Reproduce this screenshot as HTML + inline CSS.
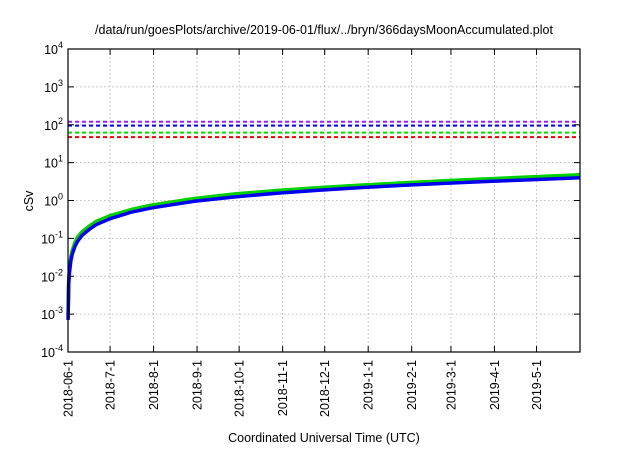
<!DOCTYPE html>
<html><head><meta charset="utf-8"><style>
body{margin:0;background:#fff;width:640px;height:448px;overflow:hidden}
svg{font-family:"Liberation Sans",sans-serif}
</style></head><body>
<svg id="chart" width="640" height="448" viewBox="0 0 640 448" xmlns="http://www.w3.org/2000/svg">
<text x="324" y="34" font-size="12.5" text-anchor="middle">/data/run/goesPlots/archive/2019-06-01/flux/../bryn/366daysMoonAccumulated.plot</text>
<text transform="translate(33,201) rotate(-90)" font-size="12.5" text-anchor="middle">cSv</text>
<text x="324" y="442" font-size="12.5" text-anchor="middle">Coordinated Universal Time (UTC)</text>
<g id="grid"></g><g id="series"></g><g id="axes"></g>
</svg>
<script>
const yTickExps=[-4,-3,-2,-1,0,1,2,3,4];
const xTickLabels=["2018-06-1","2018-7-1","2018-8-1","2018-9-1","2018-10-1","2018-11-1","2018-12-1","2019-1-1","2019-2-1","2019-3-1","2019-4-1","2019-5-1"];
const xTickDays=[0,30,61,92,122,153,183,214,245,273,304,334];
const sampleDays=[0.05,0.5,1,2,3,5,7,10,15,20,30,45,60,90,120,150,180,210,240,270,300,330,365];
const redValues=[0.0008,0.0075,0.014,0.03,0.045,0.075,0.1,0.14,0.2,0.26,0.38,0.55,0.72,1.08,1.42,1.76,2.1,2.45,2.8,3.15,3.55,3.95,4.5];
const greenValues=[0.0009,0.008,0.015,0.032,0.048,0.08,0.11,0.15,0.21,0.28,0.4,0.58,0.76,1.13,1.5,1.85,2.2,2.57,2.95,3.35,3.75,4.2,4.8];
const blueValues=[0.0007,0.006,0.012,0.025,0.038,0.062,0.085,0.12,0.17,0.23,0.33,0.49,0.64,0.95,1.26,1.57,1.88,2.2,2.52,2.85,3.2,3.55,4.0];
const thresholdValues=[47,62,95,120];
const thresholdColors=["#f00000","#00e000","#0000f0","#a020f0"];
const L=68,R=580,T=49,B=352,D0=0,D1=365;
const NS="http://www.w3.org/2000/svg";
function xs(d){return L+(d-D0)/(D1-D0)*(R-L);}
function ys(v){return B-(Math.log10(v)+4)/8*(B-T);}
function mk(tag,attrs,parent){const e=document.createElementNS(NS,tag);for(const k in attrs)e.setAttribute(k,attrs[k]);parent.appendChild(e);return e;}
const grid=document.getElementById('grid'),axes=document.getElementById('axes'),ser=document.getElementById('series');
yTickExps.forEach(e=>{const y=ys(Math.pow(10,e));
 if(e>-4&&e<4){const g=mk('line',{x1:L,x2:R,y1:y,y2:y,stroke:'#aaa','stroke-width':0.8,'stroke-dasharray':'1.5,2.5'},grid);
 
 }
 const t1=mk('line',{x1:L,x2:L+6,y1:y,y2:y,stroke:'#000'},axes);
 
 
 const t2=mk('line',{x1:R-6,x2:R,y1:y,y2:y,stroke:'#000'},axes);
 
 
 const tx=mk('text',{x:L-5,y:y+5,'font-size':12.5,'text-anchor':'end'},axes);
 
 
 tx.appendChild(document.createTextNode('10'));
 const s=mk('tspan',{dy:-6,'font-size':9},tx);s.textContent=String(e);
});
xTickDays.forEach((d,i)=>{const x=xs(d);
 if(i>0){const g=mk('line',{x1:x,x2:x,y1:T,y2:B,stroke:'#aaa','stroke-width':0.8,'stroke-dasharray':'1.5,2.5'},grid);
 
 }
 const t1=mk('line',{x1:x,x2:x,y1:B,y2:B-6,stroke:'#000'},axes);
 
 
 const t2=mk('line',{x1:x,x2:x,y1:T,y2:T+6,stroke:'#000'},axes);
 
 
 const tx=mk('text',{transform:`translate(${x+4.5},360) rotate(-90)`,'font-size':12.5,'text-anchor':'end'},axes);
 
 
 tx.textContent=xTickLabels[i];
});
thresholdValues.forEach((v,i)=>{const y=ys(v);
 const l=mk('line',{x1:L,x2:R,y1:y,y2:y,stroke:thresholdColors[i],'stroke-width':2,'stroke-dasharray':'4,3'},ser);
 
 
});
[[redValues,'#f00000'],[greenValues,'#00d000'],[blueValues,'#0000f0']].forEach(([vals,c])=>{
 const pts=sampleDays.map((d,i)=>xs(d).toFixed(1)+','+ys(vals[i]).toFixed(1)).join(' ');
 const p=mk('polyline',{points:pts,fill:'none',stroke:c,'stroke-width':3.5,'stroke-linejoin':'round'},ser);
 
 
});
const fr=mk('rect',{x:L,y:T,width:R-L,height:B-T,fill:'none',stroke:'#000','stroke-width':1.2},axes);


</script>
</body></html>
